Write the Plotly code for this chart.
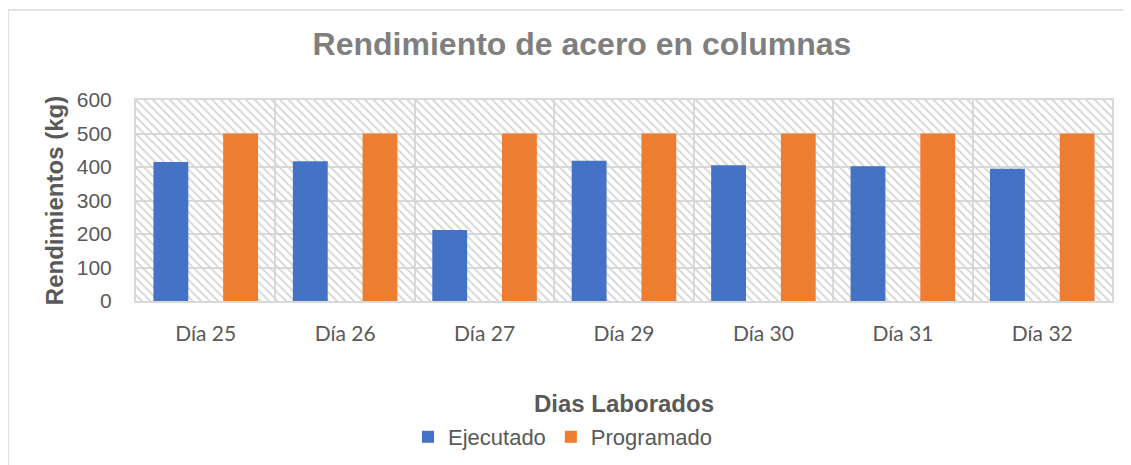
import plotly.graph_objects as go

categories = ["Día 25", "Día 26", "Día 27", "Día 29", "Día 30", "Día 31", "Día 32"]
ejecutado = [415, 417, 212, 419, 405, 402, 395]
programado = [500, 500, 500, 500, 500, 500, 500]
y_ticks = [0, 100, 200, 300, 400, 500, 600]

Y_MAX = 600
n = len(categories)
idx = list(range(n))

# page body has an 8px margin; work in screenshot pixels and convert
OX, OY = 8, 8
W, H = 1131 - OX, 465 - OY
PL, PR, PT, PB = 136, 1112, 100, 301          # plot area in screenshot pixels
L, T = PL - OX, PT - OY
R, B = W - (PR - OX), H - (PB - OY)
pw, ph = PR - PL, PB - PT

def px_x(p):
    return (p - PL) / pw

def px_y(p):
    return (PB - p) / ph

GRID = "#d9d9d9"
TXT = "#595959"

fig = go.Figure()

# hatched plot-area background (decoration spanning the whole category range)
fig.add_trace(go.Bar(
    x=[(n - 1) / 2], y=[Y_MAX], width=[n],
    marker=dict(color="#d4d4d4", line=dict(width=0),
                pattern=dict(shape="\\", size=6, solidity=0.3, fillmode="replace")),
    showlegend=False, hoverinfo="skip",
))

fig.add_trace(go.Bar(
    name="Ejecutado", x=idx, y=ejecutado, width=0.25, offset=-0.375,
    marker=dict(color="#4472C4", line=dict(width=0)),
))
fig.add_trace(go.Bar(
    name="Programado", x=idx, y=programado, width=0.25, offset=0.125,
    marker=dict(color="#ED7D31", line=dict(width=0)),
))

fig.update_layout(
    width=W, height=H,
    margin=dict(l=L, r=R, t=T, b=B, autoexpand=False),
    paper_bgcolor="white", plot_bgcolor="white",
    barmode="overlay",
    font=dict(family="Liberation Sans, Arial", color=TXT),
    title=dict(text="<b>Rendimiento de acero en columnas</b>",
               font=dict(size=32, color="#7f7f7f", family="Liberation Sans, Arial"),
               x=(582 - OX) / W, xanchor="center", xref="container",
               y=1 - (44 - OY) / H, yanchor="middle", yref="container"),
    xaxis=dict(
        range=[-0.5, n - 0.5], automargin=False,
        tickmode="array", tickvals=idx, ticktext=categories,
        tickfont=dict(family="Lato, Carlito, Calibri", size=21, color=TXT),
        showgrid=False, zeroline=False,
        showline=True, linecolor=GRID, linewidth=2, mirror=True,
        ticks="", ticklabelstandoff=13,
        minor=dict(tick0=-0.5, dtick=1, showgrid=True, gridcolor=GRID, gridwidth=2),
        title=dict(text="<b>Dias Laborados</b>", font=dict(size=24, color=TXT), standoff=51),
    ),
    yaxis=dict(
        range=[0, Y_MAX], tickmode="array", tickvals=y_ticks, automargin=False,
        tickfont=dict(size=21, color=TXT),
        showgrid=True, gridcolor=GRID, gridwidth=2, zeroline=False,
        showline=True, linecolor=GRID, linewidth=2, mirror=True,
        ticks="", ticklabelstandoff=18,
        title=dict(text="<b>Rendimientos (kg)</b>", font=dict(size=24, color=TXT), standoff=6),
    ),
    legend=dict(orientation="h", x=px_x(408), xanchor="left", xref="paper",
                y=px_y(437), yanchor="middle",
                font=dict(size=22, color=TXT), itemwidth=30, traceorder="normal"),
    shapes=[dict(type="rect", xref="paper", yref="paper",
                 x0=px_x(8), x1=px_x(1145), y0=px_y(480), y1=px_y(10),
                 line=dict(color=GRID, width=1.5), layer="below")],
)

fig.write_html("out.html")
